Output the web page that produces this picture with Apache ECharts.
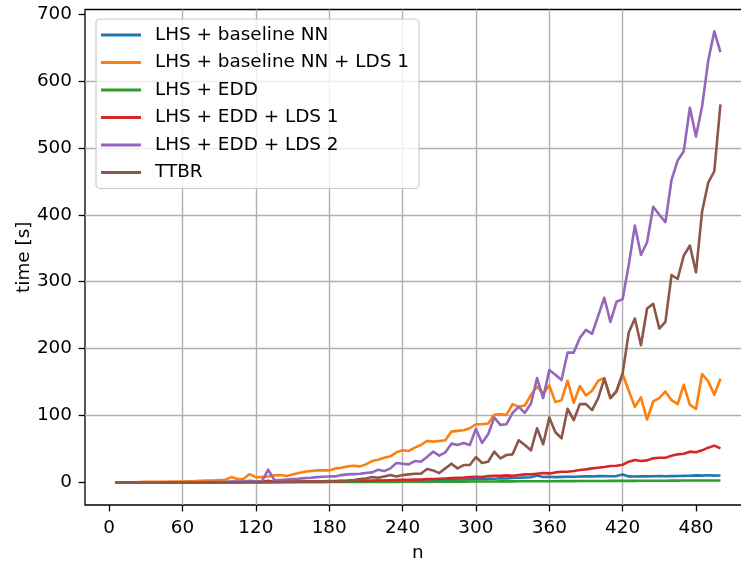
<!DOCTYPE html>
<html>
<head>
<meta charset="utf-8">
<script src="https://cdn.jsdelivr.net/npm/echarts@6/dist/echarts.min.js"></script>
<style>
  html, body { margin: 0; padding: 0; background: #fff; }
  #chart { width: 741px; height: 561px; }
</style>
</head>
<body>
<div id="chart"></div>
<script>
// Problem size n
const nValues = [
  5, 10, 15, 20, 25, 30, 35, 40, 45, 50,
  55, 60, 65, 70, 75, 80, 85, 90, 95, 100,
  105, 110, 115, 120, 125, 130, 135, 140, 145, 150,
  155, 160, 165, 170, 175, 180, 185, 190, 195, 200,
  205, 210, 215, 220, 225, 230, 235, 240, 245, 250,
  255, 260, 265, 270, 275, 280, 285, 290, 295, 300,
  305, 310, 315, 320, 325, 330, 335, 340, 345, 350,
  355, 360, 365, 370, 375, 380, 385, 390, 395, 400,
  405, 410, 415, 420, 425, 430, 435, 440, 445, 450,
  455, 460, 465, 470, 475, 480, 485, 490, 495, 500
];

// Run times in seconds
const lhsBaseline = [
  0.0, 0.0, 0.0, 0.0, 0.1, 0.1, 0.1, 0.1, 0.1, 0.2,
  0.2, 0.2, 0.2, 0.3, 0.3, 0.3, 0.4, 0.4, 0.4, 0.5,
  0.5, 0.6, 0.6, 0.7, 0.7, 0.8, 0.8, 0.9, 1.0, 1.0,
  1.1, 1.2, 1.2, 1.3, 1.4, 1.5, 1.6, 1.7, 1.8, 1.9,
  2.0, 2.1, 2.2, 2.3, 2.4, 2.6, 2.7, 2.8, 3.0, 3.1,
  3.3, 3.4, 3.5, 3.7, 3.9, 4.0, 4.2, 4.4, 4.6, 5.2,
  5.0, 5.4, 5.6, 6.2, 6.0, 6.6, 7.0, 7.3, 7.8, 10.5,
  8.2, 8.4, 8.0, 8.3, 8.6, 8.5, 8.8, 9.2, 9.0, 9.4,
  9.6, 9.3, 9.5, 12.0, 9.0, 8.8, 9.2, 9.0, 9.3, 9.4,
  9.2, 9.5, 9.7, 9.8, 10.0, 10.6, 10.2, 10.8, 10.2, 10.4
];

const lhsBaselineLds1 = [
  0.0, 0.1, 0.2, 0.3, 0.5, 0.8, 1.0, 0.8, 1.0, 1.2,
  1.5, 1.5, 1.8, 2.0, 2.5, 2.8, 3.0, 3.5, 4.0, 8.0,
  5.0, 5.5, 12.5, 8.0, 8.0, 9.0, 10.5, 11.0, 9.5, 12.0,
  14, 16, 17, 18, 18, 18, 21, 22, 24, 25,
  24, 27, 32, 34, 37, 39, 45, 48, 47, 52,
  56, 62, 61, 62, 63, 76, 77, 78, 81, 87,
  87, 88, 101, 102, 101, 117, 113, 115, 131, 143,
  133, 145, 120, 123, 152, 119, 144, 130, 137, 152,
  156, 126, 135, 162, 137, 113, 127, 94, 121, 126,
  136, 123, 117, 146, 116, 110, 162, 151, 131, 155
];

const lhsEdd = [
  0.0, 0.0, 0.0, 0.0, 0.0, 0.0, 0.0, 0.0, 0.0, 0.1,
  0.1, 0.1, 0.1, 0.1, 0.1, 0.1, 0.2, 0.2, 0.2, 0.2,
  0.2, 0.2, 0.3, 0.3, 0.3, 0.3, 0.3, 0.4, 0.4, 0.4,
  0.4, 0.5, 0.5, 0.5, 0.5, 0.6, 0.6, 0.6, 0.7, 0.7,
  0.7, 0.8, 0.8, 0.8, 0.9, 0.9, 0.9, 1.0, 1.0, 1.0,
  1.1, 1.1, 1.1, 1.2, 1.2, 1.3, 1.3, 1.3, 1.4, 1.4,
  1.4, 1.5, 1.5, 1.6, 1.6, 1.6, 1.7, 1.7, 1.8, 1.8,
  1.8, 1.9, 1.9, 2.0, 2.0, 2.0, 2.1, 2.1, 2.1, 2.2,
  2.2, 2.3, 2.3, 2.3, 2.4, 2.4, 2.5, 2.5, 2.5, 2.6,
  2.6, 2.7, 2.7, 2.8, 2.8, 2.8, 2.9, 2.9, 3.0, 3.0
];

const lhsEddLds1 = [
  0.0, 0.0, 0.0, 0.0, 0.0, 0.1, 0.1, 0.1, 0.1, 0.1,
  0.2, 0.2, 0.2, 0.2, 0.3, 0.3, 0.3, 0.4, 0.4, 0.4,
  0.5, 0.6, 0.7, 0.8, 0.8, 2.5, 1.0, 1.0, 1.1, 1.2,
  1.3, 1.4, 1.5, 1.6, 1.7, 1.8, 1.9, 2.0, 2.1, 2.2,
  2.3, 2.5, 2.7, 2.9, 3.0, 3.3, 3.6, 3.8, 4.0, 4.2,
  4.5, 4.9, 5.2, 5.5, 6.0, 6.5, 7.0, 7.3, 8.0, 8.5,
  8.0, 9.5, 10.0, 10.0, 10.5, 10.0, 11.0, 12.0, 12.0, 13.0,
  14.0, 13.5, 15.0, 16.0, 16.0, 17.0, 18.5, 19.5, 21.0, 22.0,
  23.0, 24.5, 25.0, 26.5, 31.0, 33.5, 32.0, 33.0, 36.0, 37.0,
  37.0, 40.0, 42.0, 43.0, 46.0, 45.0, 48.0, 52.0, 55.0, 51.0
];

const lhsEddLds2 = [
  0.0, 0.0, 0.0, 0.0, 0.1, 0.1, 0.1, 0.1, 0.2, 0.2,
  0.2, 0.3, 0.3, 0.4, 0.4, 0.5, 0.6, 0.7, 0.8, 1.5,
  1.2, 1.5, 2.5, 1.8, 1.5, 19, 4, 3.5, 4.5, 5,
  5.5, 6.5, 7, 8, 8.5, 9, 9, 11, 12, 12.5,
  13, 14, 15, 19, 17, 21, 29, 28, 27, 32,
  31, 38, 46, 40, 45, 58, 56, 59, 56, 80,
  59, 72, 97, 86, 87, 104, 113, 104, 118, 156,
  126, 168, 161, 153, 194, 194, 216, 228, 222, 249,
  276, 240, 270, 274, 325, 384, 340, 359, 412, 400,
  389, 452, 481, 495, 560, 517, 562, 630, 674, 643
];

const ttbr = [
  0.0, 0.0, 0.0, 0.0, 0.0, 0.0, 0.0, 0.0, 0.0, 0.0,
  0.0, 0.0, 0.0, 0.1, 0.1, 0.1, 0.1, 0.2, 0.2, 0.2,
  0.3, 0.3, 0.4, 0.4, 0.5, 0.5, 0.6, 0.7, 0.8, 0.9,
  1.0, 1.1, 1.3, 1.5, 1.7, 2.0, 2.2, 2.5, 2.8, 3.5,
  5, 6, 8, 7, 9, 11, 9, 11, 12, 13,
  13, 20, 18, 14, 21, 28, 21, 26, 26, 38,
  29, 31, 46, 36, 41, 42, 63, 56, 48, 81,
  57, 97, 75, 66, 110, 93, 117, 117, 108, 126,
  155, 126, 137, 163, 224, 245, 205, 260, 267, 230,
  240, 310, 304, 339, 354, 314, 405, 448, 465, 565
];

const seriesNames = [
  'LHS + baseline NN',
  'LHS + baseline NN + LDS 1',
  'LHS + EDD',
  'LHS + EDD + LDS 1',
  'LHS + EDD + LDS 2',
  'TTBR'
];
const seriesValues = [lhsBaseline, lhsBaselineLds1, lhsEdd, lhsEddLds1, lhsEddLds2, ttbr];
const seriesColors = ['#1f77b4', '#ff7f0e', '#2ca02c', '#d62728', '#9467bd', '#8c564b'];

// Axis ticks
const xTicks = [0, 60, 120, 180, 240, 300, 360, 420, 480];
const yTicks = [0, 100, 200, 300, 400, 500, 600, 700];

const FONT = 'DejaVu Sans';
const FS = 18.4;

const chart = echarts.init(document.getElementById('chart'), null, { renderer: 'canvas' });

const gridLine = { show: true, lineStyle: { color: '#b0b0b0', width: 1.4 } };

chart.setOption({
  animation: false,
  backgroundColor: '#ffffff',
  textStyle: { fontFamily: FONT },
  grid: {
    left: 85, top: 9.5, right: -9.7, bottom: 56,
    show: true, borderColor: '#000000', borderWidth: 1.3,
    backgroundColor: 'transparent',
    containLabel: false,
    outerBoundsMode: 'none'
  },
  legend: {
    orient: 'vertical',
    left: 96, top: 19,
    padding: [6, 10, 6, 5],
    itemWidth: 40, itemHeight: 3,
    itemGap: 7.5,
    icon: 'rect',
    backgroundColor: 'rgba(255,255,255,0.8)',
    borderColor: '#cccccc', borderWidth: 1.2, borderRadius: 4,
    textStyle: { fontFamily: FONT, fontSize: FS, color: '#000', lineHeight: 20, padding: [0, 0, 0, 9] },
    data: seriesNames
  },
  xAxis: {
    type: 'value',
    min: -19.75, max: 524.75,
    name: 'n', nameLocation: 'middle', nameGap: 39,
    nameMoveOverlap: false,
    nameTextStyle: { fontFamily: FONT, fontSize: FS, color: '#000' },
    axisLine: { show: false, onZero: false },
    axisTick: { show: true, customValues: xTicks, length: 6.4, lineStyle: { color: '#000', width: 1.3 } },
    axisLabel: { customValues: xTicks, margin: 14, fontFamily: FONT, fontSize: FS, color: '#000' },
    splitLine: Object.assign({ customValues: xTicks, showMinLine: false, showMaxLine: false }, gridLine)
  },
  yAxis: {
    type: 'value',
    min: -33.7, max: 706.7,
    name: 'time [s]', nameLocation: 'middle', nameGap: 52,
    nameMoveOverlap: false,
    nameTextStyle: { fontFamily: FONT, fontSize: FS, color: '#000' },
    axisLine: { show: false, onZero: false },
    axisTick: { show: true, customValues: yTicks, length: 6.4, lineStyle: { color: '#000', width: 1.3 } },
    axisLabel: { customValues: yTicks, margin: 13, fontFamily: FONT, fontSize: FS, color: '#000' },
    splitLine: Object.assign({ customValues: yTicks, showMinLine: false, showMaxLine: false }, gridLine)
  },
  series: seriesNames.map((name, k) => ({
    name: name,
    type: 'line',
    data: nValues.map((n, i) => [n, seriesValues[k][i]]),
    showSymbol: false,
    symbol: 'none',
    color: seriesColors[k],
    lineStyle: { width: 2.6, color: seriesColors[k], join: 'round' },
    z: 2 + k
  }))
});
</script>
</body>
</html>
